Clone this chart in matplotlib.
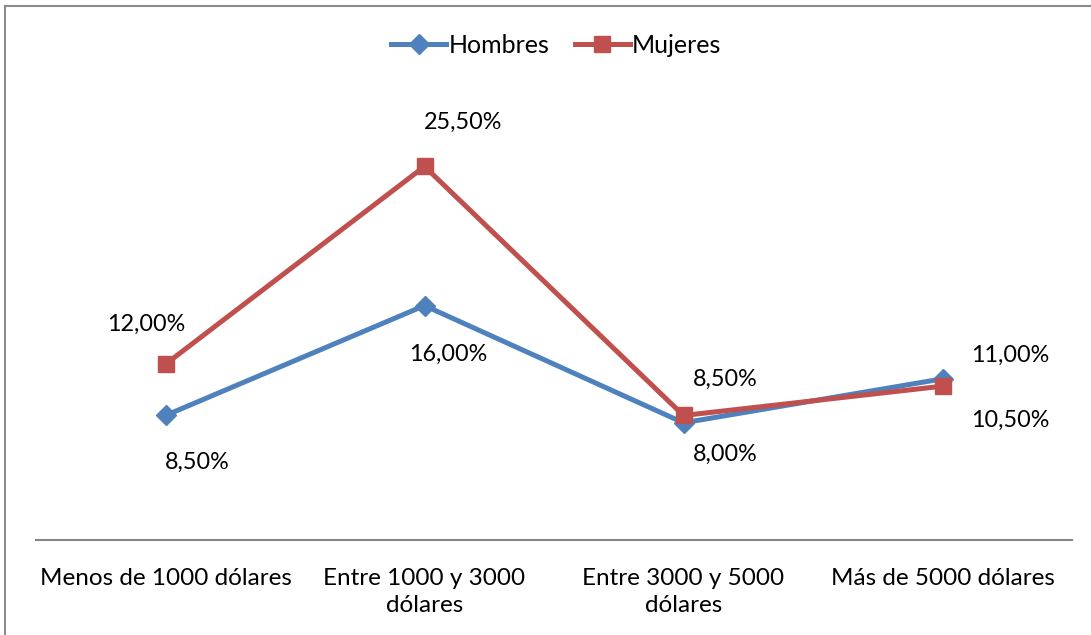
import matplotlib
matplotlib.use("Agg")
import matplotlib.pyplot as plt
from matplotlib.lines import Line2D

categories = ["Menos de 1000 dólares", "Entre 1000 y 3000\ndólares",
              "Entre 3000 y 5000\ndólares", "Más de 5000 dólares"]
hombres = [8.5, 16.0, 8.0, 11.0]
mujeres = [12.0, 25.5, 8.5, 10.5]

# label offsets in pixels (dx, dy), as placed in the original chart
hombres_offsets = [(32, -47), (24, -49), (42, -32), (68, 24)]
mujeres_offsets = [(-19, 40), (39, 44), (42, 36), (68, -34)]

BLUE = "#4F81BD"
RED = "#C0504D"

plt.rcParams["font.family"] = ["Lato", "DejaVu Sans"]

fig = plt.figure(figsize=(10.91, 6.35), dpi=100)
ax = fig.add_axes([0.033, 1 - 540 / 635, 0.9496, 439.5 / 635])

x = list(range(len(categories)))
ax.plot(x, hombres, color=BLUE, lw=3.6, marker="D", markersize=10, label="Hombres")
ax.plot(x, mujeres, color=RED, lw=3.6, marker="s", markersize=12, label="Mujeres")

def fmt(v):
    return f"{v:.2f}".replace(".", ",") + "%"

for xi, v, off in zip(x, hombres, hombres_offsets):
    ax.annotate(fmt(v), (xi, v), xytext=off, textcoords="offset pixels",
                ha="center", va="center", fontsize=16.8, color="black")
for xi, v, off in zip(x, mujeres, mujeres_offsets):
    ax.annotate(fmt(v), (xi, v), xytext=off, textcoords="offset pixels",
                ha="center", va="center", fontsize=16.8, color="black")

ax.set_xlim(-0.5, 3.5)
ax.set_ylim(0, 30)
ax.set_xticks(x)
ax.set_xticklabels(categories, fontsize=17.5, linespacing=1.38)
ax.tick_params(axis="x", length=0, pad=20)
ax.set_yticks([])
for side in ["top", "right", "left"]:
    ax.spines[side].set_visible(False)
ax.spines["bottom"].set_color("#868686")
ax.spines["bottom"].set_linewidth(1.5)

fig.legend(loc="center", bbox_to_anchor=(0.51, 0.928), ncol=2, frameon=False,
           fontsize=18, handlelength=2.2, handletextpad=0.1, columnspacing=1.0)

# outer chart border (left and top visible)
fig.add_artist(Line2D([5 / 1091, 5 / 1091], [0, 1 - 6 / 635], color="#8c8c8c", lw=1.5,
                      transform=fig.transFigure))
fig.add_artist(Line2D([5 / 1091, 1], [1 - 6 / 635, 1 - 6 / 635], color="#8c8c8c", lw=1.5,
                      transform=fig.transFigure))

fig.savefig("out.png", dpi=100)
